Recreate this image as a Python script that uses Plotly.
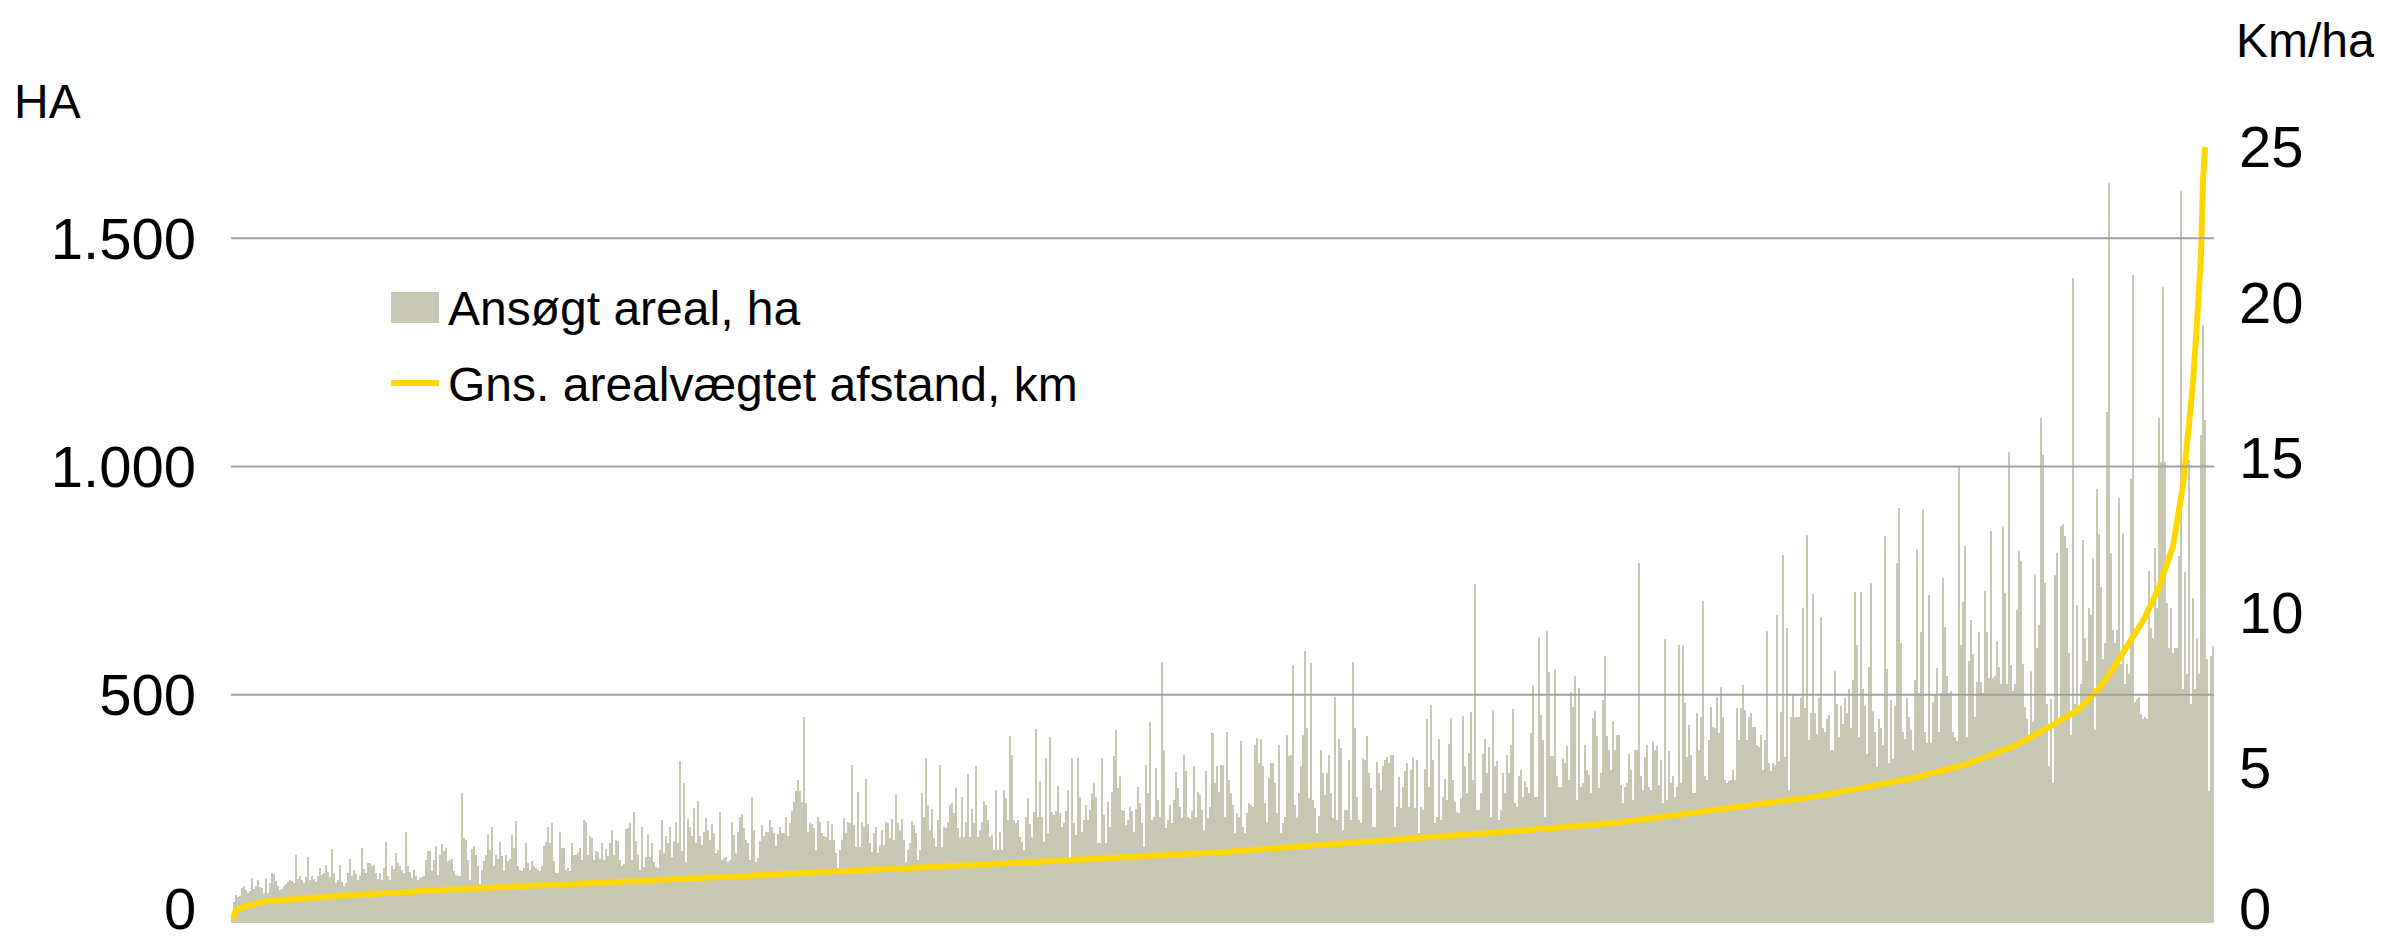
import plotly.graph_objects as go

# ---- data ----
area_part1 = [18,45,62,58,60,76,80,72,66,70, 98,74,80,95,78,76,66,98,65,88, 110,107,92,82,72,75,80,86,90,94,
              92,88,149,96,102,94,87,100,145,94, 102,96,90,102,120,106,109,128,112,100, 162,109,88,95,127,90,80,87,110,140,
              102,116,108,94,102,164,118,109,131,132, 124,127,110,96,109,94,120,178,102,94, 124,118,153,131,125,116,109,200,124,112,
              98,116,102,94,98,100,102,137,157]
area_part2 = [157,113,138,168,106,150,172,157,164,135, 138,140,113,106,102,102,284,186,182,138, 94,162,168,150,124,85,116,135,150,195,
              160,211,124,149,140,178,146,113,149,135, 140,193,164,224,124,116,113,120,176,131, 116,135,124,120,116,113,124,168,178,211,
              175,219,135,110,109,200,164,164,116,120, 113,176,149,150,153,164,138,226,222,150, 190,186,138,157,155,140,175,138,162,146,
              175,204,149,182,180,138,124,130,207]
area_part3 = [208,220,138,243,179,150,116,211,123,145, 195,145,175,134,123,120,160,226,153,191, 176,211,145,180,222,175,355,158,306,134,
              228,211,190,253,176,268,190,171,200,229, 204,182,216,197,153,160,243,138,142,145, 134,138,221,193,153,200,233,238,208,182,
              175,138,276,204,134,142,180,215,190,200, 200,226,211,197,168,195,210,197,197,233, 190,220,246,266,290,314,290,266,452,262,
              200,220,217,208,160,232,222,197,190]
area_part4 = [189,224,182,217,182,153,120,160,182,229, 197,221,219,346,215,167,288,167,222,211, 315,217,175,156,197,211,153,171,204,171,
              221,219,186,228,182,282,219,204,228,182, 134,160,175,224,215,197,138,160,284,233, 361,259,204,249,186,167,226,346,167,211,
              208,222,259,262,240,295,208,189,277,189, 221,326,189,249,219,343,189,204,222,267, 259,226,189,193,160,291,160,200,160,291,
              273,226,409,367,226,219,226,189,178]
area_part5 = [160,232,273,217,189,243,425,233,310,233, 178,361,197,407,243,237,245,300,240,211, 219,246,291,145,361,219,193,361,277,200,
              226,259,226,248,284,307,277,175,175,361, 237,175,266,211,286,365,423,295,322,248, 245,215,226,254,245,200,249,298,262,219,
              167,346,284,440,226,233,339,270,233,571, 379,208,226,259,219,270,330,295,255,229, 368,334,233,227,245,343,233,286,280,248,
              204,333,229,255,416,306,343,288,346]
area_part6 = [346,233,418,313,284,259,197,241,233,398, 211,197,241,262,259,255,389,405,350,403, 343,262,222,317,350,350,306,241,389,197,
              219,233,412,365,368,566,259,230,284,343, 412,595,428,273,570,270,251,197,235,379, 328,281,328,368,284,230,496,226,404,383,
              204,248,248,357,226,572,427,277,226,219, 361,357,409,328,295,211,211,352,328,292, 343,357,363,350,368,368,211,255,319,251,
              299,332,350,255,335,363,251,357,197]
area_part7 = [255,248,337,447,299,477,358,219,233,404, 226,277,316,270,393,449,314,266,244,241, 273,453,343,284,372,462,314,743,248,248,
              284,370,404,328,385,233,467,343,356,226, 248,328,284,369,328,389,469,262,255,322, 336,277,312,299,284,416,521,277,277,627,
              456,401,233,640,549,365,365,557,321,299, 299,361,350,387,314,505,474,542,270,515, 299,306,389,336,325,284,449,464,409,295,
              328,489,586,410,379,336,442,379,412]
area_part8 = [412,302,262,299,306,370,335,269,379,378, 788,321,291,364,390,299,291,399,379,388, 302,357,262,623,269,377,306,321,277,299,
              609,306,609,483,364,433,368,284,284,461, 379,452,706,321,313,401,474,430,427,496, 416,516,452,313,306,310,313,335,313,471,
              401,471,522,467,401,452,459,430,430,390, 386,412,335,401,639,350,332,350,346,675, 354,463,807,364,646,291,452,500,452,452,
              452,492,690,471,851,401,459,721,459]
area_part9 = [413,494,670,427,418,446,456,380,380,551, 480,408,475,437,494,461,513,427,532,725, 608,408,725,513,475,370,561,744,465,418,
              341,446,427,389,847,556,351,489,360,475, 788,909,613,418,403,494,451,422,380,532, 820,503,637,906,418,394,718,394,484,499,
              559,418,503,756,648,542,503,508,418,408, 399,1002,610,704,825,408,575,664,589,451, 527,637,527,503,727,637,537,858,537,542,
              618,561,523,868,723,523,1031,565,508]
area_part10 = [524,685,816,793,568,474,446,412,552,440, 763,602,652,1106,1025,744,479,345,490,306, 763,811,446,869,875,847,822,591,412,1413,
               479,696,462,524,838,624,574,691,674,800, 423,950,853,735,579,613,1120,1622,811,641, 613,641,930,568,855,524,568,546,972,1419,
               485,490,496,457,446,451,446,771,646,624, 822,691,1106,1009,1393,1009,702,602,691,591, 602,602,805,1603,513,769,546,1014,479,713,
               513,624,546,1070,1310,1103,579,289,585,607]

area_ha = (area_part1 + area_part2 + area_part3 + area_part4 + area_part5 +
           area_part6 + area_part7 + area_part8 + area_part9 + area_part10)
bar_index = list(range(len(area_ha)))

# distance curve (km/ha), read at selected bar positions
line_index = [0, 2, 5, 10, 16, 50, 99, 198, 297, 396, 495, 594, 643, 693, 742, 792, 841, 866, 891,
              906, 923, 933, 940, 948, 956, 963, 970, 975, 977, 980, 982, 984, 985, 986]
line_km = [0.1, 0.4, 0.5, 0.6, 0.69, 0.86, 1.05, 1.34, 1.64, 1.95, 2.29, 2.72, 2.97, 3.24, 3.65, 4.08, 4.68, 5.1, 5.72,
           6.23, 6.88, 7.55, 8.19, 9.0, 9.84, 10.82, 12.13, 14.1, 15.4, 17.4, 19.35, 21.5, 23.9, 25.0]

left_ticks = [0, 500, 1000, 1500]
right_ticks = [0, 5, 10, 15, 20, 25]
grid_values = [500, 1000, 1500]
bar_name = "Ansøgt areal, ha"
line_name = "Gns. arealvægtet afstand, km"

FONT = "Liberation Sans, Arial, sans-serif"
BAR_COLOR = "#C8C7B3"
LINE_COLOR = "#FFD700"
GRID_COLOR = "#A0A0A0"
TICK_SIZE = 58
TEXT_SIZE = 48

# page is offset by the default 8px body margin
OFF = 8
W, H = 2366, 936
L, R, T, B = 231 - OFF, W - (2214 - OFF), 147 - OFF, H - (923 - OFF)
pw, ph = W - L - R, H - T - B

def px(page_x):
    return (page_x - OFF - L) / pw

def py(page_y):
    return 1 - (page_y - OFF - T) / ph

fig = go.Figure()
fig.add_trace(go.Bar(
    x=bar_index, y=area_ha, name=bar_name,
    marker=dict(color=BAR_COLOR, line=dict(width=0)),
    showlegend=False,
))
fig.add_trace(go.Scatter(
    x=line_index, y=line_km, name=line_name,
    mode="lines", line=dict(color=LINE_COLOR, width=6),
    yaxis="y2", showlegend=False,
))

for v in grid_values:
    fig.add_shape(type="line", xref="paper", x0=0, x1=1, yref="y", y0=v, y1=v,
                  line=dict(color=GRID_COLOR, width=2), layer="above")

# legend (drawn manually to match the symbol sizes)
fig.add_shape(type="rect", xref="paper", yref="paper",
              x0=px(391), x1=px(439), y0=py(292), y1=py(323),
              fillcolor=BAR_COLOR, line=dict(width=0), layer="above")
fig.add_shape(type="line", xref="paper", yref="paper",
              x0=px(391), x1=px(439), y0=py(383), y1=py(383),
              line=dict(color=LINE_COLOR, width=6), layer="above")

tick_font = dict(size=TICK_SIZE, family=FONT, color="black")
text_font = dict(size=TEXT_SIZE, family=FONT, color="black")

annotations = [
    dict(text="HA", xref="paper", yref="paper", x=px(47), y=py(102), xanchor="center",
         yanchor="middle", showarrow=False, font=text_font),
    dict(text="Km/ha", xref="paper", yref="paper", x=px(2305), y=py(40), xanchor="center",
         yanchor="middle", showarrow=False, font=text_font),
    dict(text=bar_name, xref="paper", yref="paper", x=px(446), y=py(308), xanchor="left",
         yanchor="middle", showarrow=False, font=text_font),
    dict(text=line_name, xref="paper", yref="paper", x=px(446), y=py(384), xanchor="left",
         yanchor="middle", showarrow=False, font=text_font),
    # the two "0" tick labels sit on the bottom edge; keep them inside the page
    dict(text=str(left_ticks[0]), xref="paper", yref="paper", x=px(198), y=py(943),
         xanchor="right", yanchor="bottom", showarrow=False, font=tick_font),
    dict(text=str(right_ticks[0]), xref="paper", yref="paper", x=px(2237), y=py(943),
         xanchor="left", yanchor="bottom", showarrow=False, font=tick_font),
]

fig.update_layout(
    width=W, height=H,
    margin=dict(l=L, r=R, t=T, b=B, autoexpand=False),
    paper_bgcolor="white", plot_bgcolor="white",
    bargap=0,
    separators=",.",
    font=dict(family=FONT, color="black", size=TEXT_SIZE),
    showlegend=False,
    xaxis=dict(range=[-0.5, len(area_ha) - 0.5], showticklabels=False, showgrid=False,
               zeroline=False, showline=False, ticks="", automargin=False),
    yaxis=dict(range=[0, 1700], tickvals=left_ticks[1:], tickformat=",d", showgrid=False,
               zeroline=False, showline=False, ticks="", ticklabelstandoff=34,
               automargin=False, tickfont=tick_font),
    yaxis2=dict(range=[0, 25], tickvals=right_ticks[1:], overlaying="y", side="right",
                showgrid=False, zeroline=False, showline=False, ticks="", ticklabelstandoff=24,
                automargin=False, tickfont=tick_font),
    annotations=annotations,
)

fig.write_html("out.html")
